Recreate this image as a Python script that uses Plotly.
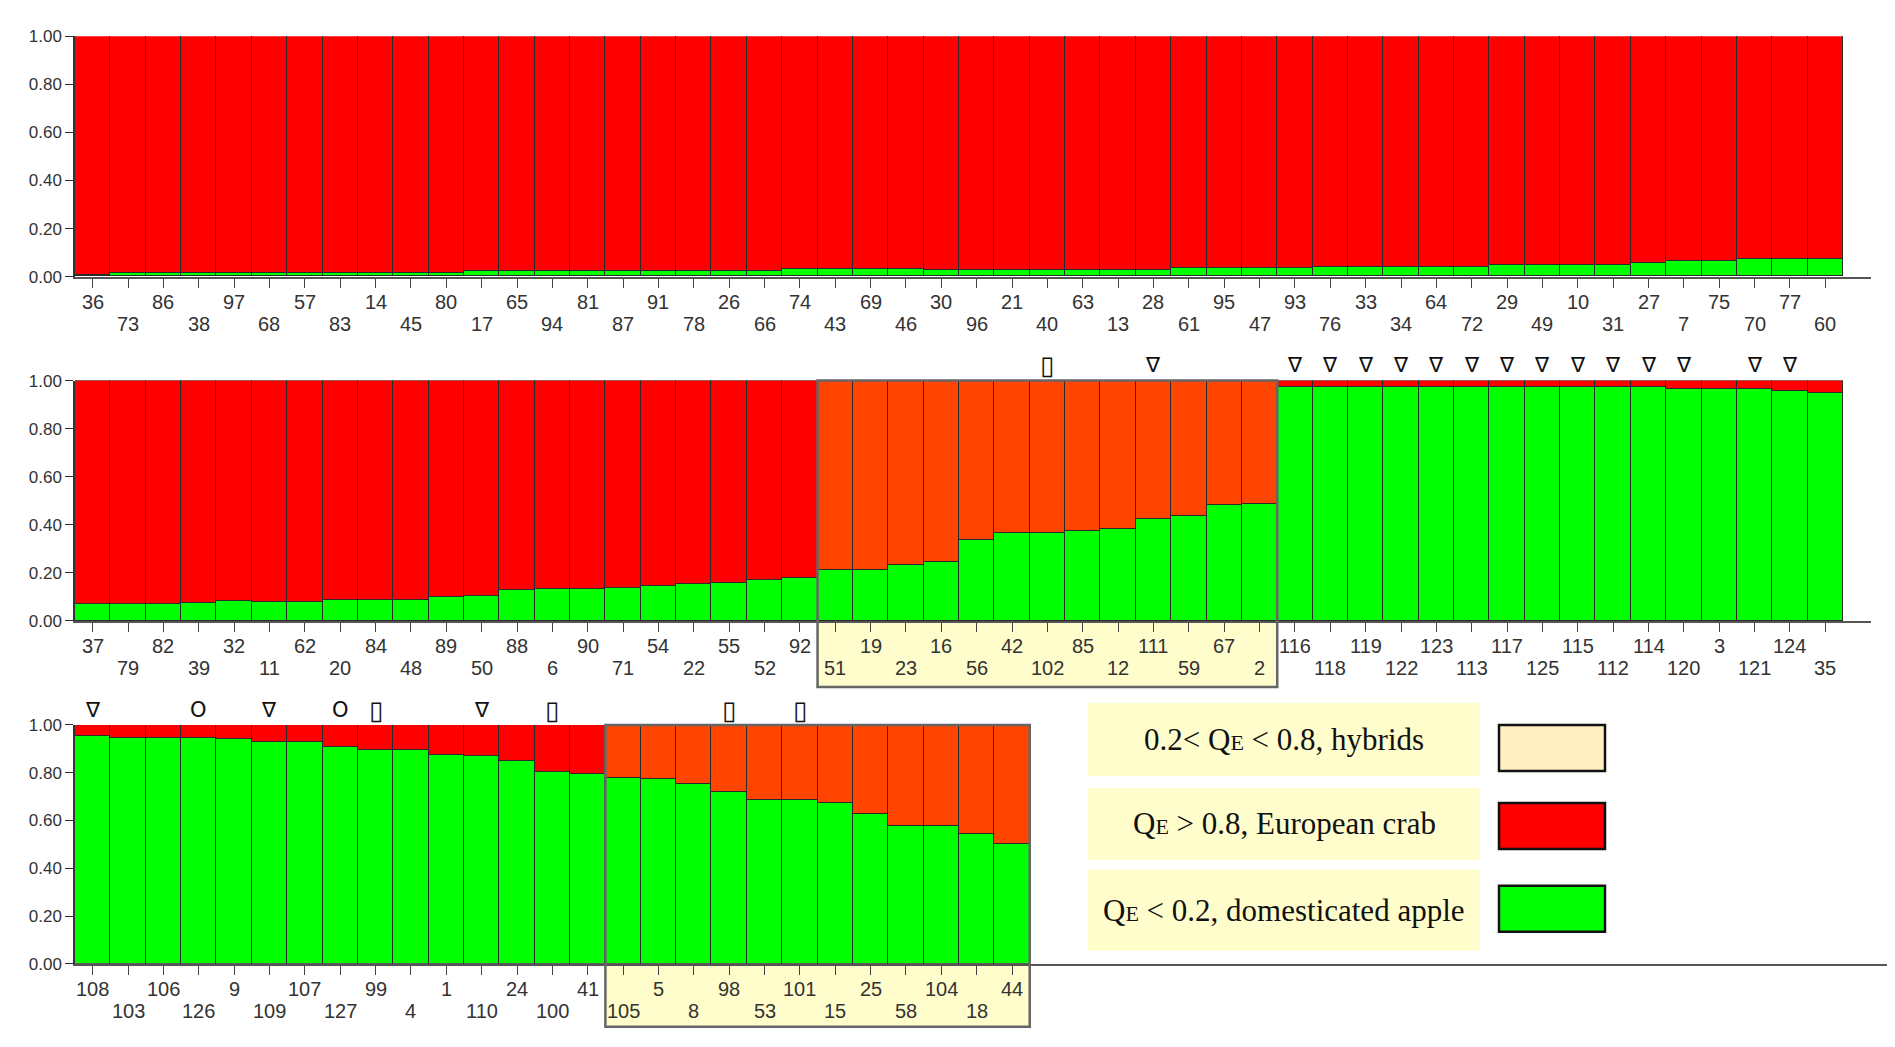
import plotly.graph_objects as go

# ---------------- data ----------------
row1_labels = [36, 73, 86, 38, 97, 68, 57, 83, 14, 45, 80, 17, 65, 94, 81, 87, 91, 78, 26, 66,
               74, 43, 69, 46, 30, 96, 21, 40, 63, 13, 28, 61, 95, 47, 93, 76, 33, 34, 64, 72,
               29, 49, 10, 31, 27, 7, 75, 70, 77, 60]
row1_green = [0.006, 0.013, 0.013, 0.013, 0.013, 0.013, 0.013, 0.013, 0.013, 0.013,
              0.013, 0.021, 0.021, 0.021, 0.021, 0.021, 0.021, 0.021, 0.021, 0.021,
              0.029, 0.029, 0.029, 0.029, 0.028, 0.028, 0.028, 0.028, 0.028, 0.028,
              0.028, 0.036, 0.036, 0.036, 0.036, 0.041, 0.041, 0.041, 0.041, 0.041,
              0.046, 0.046, 0.046, 0.046, 0.054, 0.062, 0.062, 0.072, 0.072, 0.072]

row2_labels = [37, 79, 82, 39, 32, 11, 62, 20, 84, 48, 89, 50, 88, 6, 90, 71, 54, 22, 55, 52,
               92, 51, 19, 23, 16, 56, 42, 102, 85, 12, 111, 59, 67, 2, 116, 118, 119, 122, 123, 113,
               117, 125, 115, 112, 114, 120, 3, 121, 124, 35]
row2_green = [0.073, 0.072, 0.073, 0.075, 0.083, 0.082, 0.082, 0.091, 0.091, 0.091,
              0.100, 0.105, 0.131, 0.133, 0.134, 0.140, 0.147, 0.155, 0.160, 0.174,
              0.181, 0.212, 0.212, 0.234, 0.247, 0.339, 0.368, 0.368, 0.375, 0.383,
              0.425, 0.440, 0.484, 0.490, 0.976, 0.976, 0.976, 0.976, 0.976, 0.976,
              0.976, 0.976, 0.976, 0.976, 0.975, 0.968, 0.968, 0.967, 0.957, 0.949]

row3_labels = [108, 103, 106, 126, 9, 109, 107, 127, 99, 4, 1, 110, 24, 100, 41, 105, 5, 8,
               98, 53, 101, 15, 25, 58, 104, 18, 44]
row3_green = [0.954, 0.947, 0.947, 0.947, 0.940, 0.928, 0.928, 0.910, 0.896, 0.896,
              0.876, 0.869, 0.848, 0.804, 0.797, 0.779, 0.775, 0.751, 0.721, 0.685,
              0.685, 0.675, 0.627, 0.578, 0.578, 0.544, 0.500]

row2_hybrids = [51, 19, 23, 16, 56, 42, 102, 85, 12, 111, 59, 67, 2]
row3_hybrids = [105, 5, 8, 98, 53, 101, 15, 25, 58, 104, 18, 44]

row2_marks = {102: "▯", 111: "∇", 116: "∇", 118: "∇", 119: "∇", 122: "∇", 123: "∇",
              113: "∇", 117: "∇", 125: "∇", 115: "∇", 112: "∇", 114: "∇", 120: "∇",
              121: "∇", 124: "∇"}
row3_marks = {108: "∇", 126: "O", 109: "∇", 127: "O", 99: "▯", 110: "∇", 100: "▯",
              98: "▯", 101: "▯"}

legend_texts = ["0.2< Q<span style='font-size:22px'>E</span> < 0.8, hybrids",
                "Q<span style='font-size:22px'>E</span> > 0.8, European crab",
                "Q<span style='font-size:22px'>E</span> < 0.2, domesticated apple"]

# ---------------- styling / layout ----------------
OFF = 8                      # page body margin
W, H = 1895 - 2 * OFF, 1047 - 2 * OFF
YA, YB = 7.9, 0.982          # empirical vertical mapping of the capture
GREEN = "#00FF00"
RED = "#FF0000"
HYB_RED = "#FF4400"
EDGE = "#2a2a2a"
BAR_PX = 35.36
LEFT = 75
TICK_FONT = "Liberation Sans, Arial, sans-serif"
LAB_FONT = "Liberation Sans Narrow, Arial Narrow, Liberation Sans, sans-serif"


def px_x(x):
    return (x - OFF) / W


def px_y(y):
    page = (y - YA) / YB
    return 1 - (page - OFF) / H


def sh(d):
    return d / YB


rows = [
    dict(labels=row1_labels, green=row1_green, hyb=[], marks={}, top=35, bottom=275.5, right=1871, boxbottom=None),
    dict(labels=row2_labels, green=row2_green, hyb=row2_hybrids, marks=row2_marks, top=379.5, bottom=620, right=1871, boxbottom=686),
    dict(labels=row3_labels, green=row3_green, hyb=row3_hybrids, marks=row3_marks, top=724, bottom=963, right=1887, boxbottom=1026),
]

fig = go.Figure()
shapes = []
annotations = []
layout = {}

for r, row in enumerate(rows, start=1):
    sfx = "" if r == 1 else str(r)
    xa, ya = "x" + sfx, "y" + sfx
    n = len(row["labels"])
    xs = list(range(n))
    red_vals = [round(1 - g, 4) for g in row["green"]]
    red_cols = [HYB_RED if lab in row["hyb"] else RED for lab in row["labels"]]
    fig.add_trace(go.Bar(x=xs, y=row["green"], marker=dict(color=GREEN, line=dict(color=EDGE, width=1)),
                         xaxis=xa, yaxis=ya, showlegend=False, hoverinfo="skip"))
    fig.add_trace(go.Bar(x=xs, y=red_vals, marker=dict(color=red_cols, line=dict(color=EDGE, width=1)),
                         xaxis=xa, yaxis=ya, showlegend=False, hoverinfo="skip"))

    span = (row["right"] - LEFT) / BAR_PX
    y0d, y1d = px_y(row["bottom"]), px_y(row["top"])
    layout["xaxis" + sfx] = dict(
        domain=[px_x(LEFT), min(1.0, px_x(row["right"]))], range=[-0.5, -0.5 + span], anchor=ya,
        showgrid=False, zeroline=False, showline=True, linecolor="#555", linewidth=2,
        ticks="outside", ticklen=9, tickwidth=1, tickcolor="#444",
        tickvals=xs, showticklabels=False, fixedrange=True)
    layout["yaxis" + sfx] = dict(
        domain=[y0d, y1d], range=[0, 1], anchor=xa,
        showgrid=False, zeroline=False, showline=True, linecolor="#333", linewidth=1.5,
        ticks="outside", ticklen=8, tickcolor="#333",
        tickvals=[0, 0.2, 0.4, 0.6, 0.8, 1.0],
        ticktext=["0.00", "0.20", "0.40", "0.60", "0.80", "1.00"],
        tickfont=dict(family=TICK_FONT, size=17, color="#333"), fixedrange=True)

    # category labels (alternating rows)
    for i, lab in enumerate(row["labels"]):
        annotations.append(dict(
            x=i, y=0, xref=xa, yref=ya + " domain", text=str(lab), showarrow=False,
            yanchor="middle", xanchor="center", yshift=sh(-25) if i % 2 == 0 else sh(-46.5),
            font=dict(family=LAB_FONT, size=20, color="#333")))
    # symbols above bars
    for i, lab in enumerate(row["labels"]):
        if lab in row["marks"]:
            m = row["marks"][lab]
            annotations.append(dict(
                x=i, y=1, xref=xa, yref=ya + " domain", text=m, showarrow=False,
                yanchor="middle", xanchor="center", yshift=sh(15),
                font=dict(family="DejaVu Sans, sans-serif", size=26 if m == "▯" else 21, color="#111")))
    # hybrid box
    if row["hyb"]:
        idx = [i for i, lab in enumerate(row["labels"]) if lab in row["hyb"]]
        x0, x1 = min(idx) - 0.5, max(idx) + 0.5
        ybot = (px_y(row["boxbottom"]) - y0d) / (y1d - y0d)
        shapes.append(dict(type="rect", xref=xa, yref=ya + " domain", x0=x0, x1=x1, y0=ybot, y1=1,
                           fillcolor="#FFFDCC", line=dict(width=0), layer="below"))
        shapes.append(dict(type="rect", xref=xa, yref=ya + " domain", x0=x0, x1=x1, y0=ybot, y1=1,
                           fillcolor="rgba(0,0,0,0)", line=dict(color="#666", width=2.5), layer="above"))

# ---------------- custom legend ----------------
leg_boxes = [(702, 775), (787, 859), (869, 950)]
sw_boxes = [(724, 770), (802, 848), (885, 931)]
sw_cols = ["#FFEFC2", RED, GREEN]
for (t0, t1), (s0, s1), txt, col in zip(leg_boxes, sw_boxes, legend_texts, sw_cols):
    shapes.append(dict(type="rect", xref="paper", yref="paper", x0=px_x(1088), x1=px_x(1480),
                       y0=px_y(t1), y1=px_y(t0), fillcolor="#FFFDCC", line=dict(width=0), layer="above"))
    shapes.append(dict(type="rect", xref="paper", yref="paper", x0=px_x(1499), x1=px_x(1605),
                       y0=px_y(s1), y1=px_y(s0), fillcolor=col, line=dict(color="#111", width=2.5), layer="above"))
    annotations.append(dict(x=px_x((1088 + 1480) / 2), y=px_y((t0 + t1) / 2), xref="paper", yref="paper",
                            text=txt, showarrow=False, xanchor="center", yanchor="middle",
                            font=dict(family="Liberation Serif, Times New Roman, serif", size=31, color="#111")))

fig.update_layout(
    width=W, height=H, margin=dict(l=0, r=0, t=0, b=0),
    paper_bgcolor="white", plot_bgcolor="rgba(0,0,0,0)",
    barmode="stack", bargap=0, showlegend=False,
    shapes=shapes, annotations=annotations, **layout)

fig.write_html("out.html")
